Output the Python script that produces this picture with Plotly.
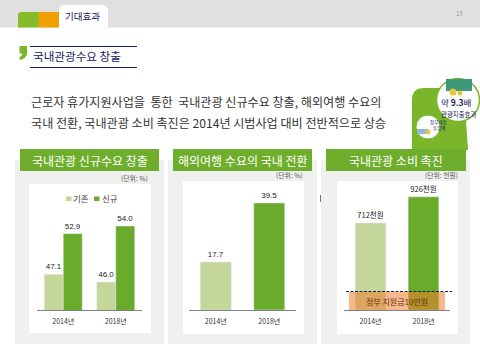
import plotly.graph_objects as go

W, H = 480, 360
KR = "Noto Sans CJK KR"
LAT = "Liberation Sans"
NAVY = "#12215f"
GREEN = "#6fae2c"
LIGHT = "#c5d69b"
DARK = "#6aab2b"
PANEL = "#f0f0f0"

years = ["2014년", "2018년"]
series_names = ["기존", "신규"]
demand_existing = [47.1, 46.0]
demand_new = [52.9, 54.0]
outbound = [17.7, 39.5]
spending = [712, 926]
subsidy_label = "정부 지원금10만원"
panel_titles = ["국내관광 신규수요 창출", "해외여행 수요의 국내 전환", "국내관광 소비 촉진"]
unit_labels = ["(단위: %)", "(단위: %)", "(단위: 천원)"]
body_lines = ["근로자 휴가지원사업을  통한  국내관광 신규수요 창출, 해외여행 수요의",
              "국내 전환, 국내관광 소비 촉진은 2014년 시범사업 대비 전반적으로 상승"]


def px(x):
    return x / W


def py(y):
    return 1 - y / H


shapes, notes = [], []


def rect(x0, y0, x1, y1, color, layer="below"):
    shapes.append(dict(type="rect", xref="paper", yref="paper", x0=px(x0), x1=px(x1), y0=py(y0), y1=py(y1),
                       fillcolor=color, line_width=0, layer=layer))


def line(x0, y0, x1, y1, color, width=1, dash="solid", layer="above"):
    shapes.append(dict(type="line", xref="paper", yref="paper", x0=px(x0), x1=px(x1), y0=py(y0), y1=py(y1),
                       line=dict(color=color, width=width, dash=dash), layer=layer))


def circle(cx, cy, r, fill, edge=None, lw=0, layer="below"):
    shapes.append(dict(type="circle", xref="paper", yref="paper", x0=px(cx - r), x1=px(cx + r),
                       y0=py(cy + r), y1=py(cy - r), fillcolor=fill,
                       line=dict(color=edge or fill, width=lw), layer=layer))


def text(x, y, s, size, color="#333333", font=KR, anchor="left"):
    notes.append(dict(xref="paper", yref="paper", x=px(x), y=py(y), text=s,
                      showarrow=False, xanchor=anchor, yanchor="middle", borderpad=0,
                      font=dict(size=size, color=color, family=font)))


# header band and tabs
rect(0, 0, 480, 27.5, "#e0e0e0")
shapes.append(dict(type="path", xref="paper", yref="paper", layer="below", line_width=0, fillcolor="#86bc2b",
                   path=f"M {px(18)} {py(27.5)} L {px(18)} {py(15)} Q {px(18)} {py(12)} {px(22)} {py(12)} L {px(39)} {py(12)} L {px(39)} {py(27.5)} Z"))
rect(38.5, 12, 59, 27.5, "#f0a000")
shapes.append(dict(type="path", xref="paper", yref="paper", layer="below", line_width=0, fillcolor="#ffffff",
                   path=f"M {px(59)} {py(27.5)} L {px(59)} {py(10)} Q {px(59)} {py(5)} {px(65)} {py(5)} L {px(101)} {py(5)} Q {px(108)} {py(5)} {px(108)} {py(12)} L {px(108)} {py(27.5)} Z"))
text(82.5, 16, "기대효과", 9.5, NAVY, anchor="center")
text(459, 14, "13", 6, "#999999", anchor="center")

# section heading
shapes.append(dict(type="path", xref="paper", yref="paper", layer="below", line_width=0, fillcolor="#7ab52a",
                   path=f"M {px(19.5)} {py(46)} L {px(27)} {py(46)} L {px(27)} {py(54)} Q {px(26)} {py(59)} {px(19.5)} {py(60)} L {px(19.5)} {py(57)} Q {px(22)} {py(56)} {px(22.5)} {py(53.5)} L {px(19.5)} {py(53.5)} Z"))
line(30, 46.5, 137, 46.5, NAVY)
line(30, 67.5, 137, 67.5, NAVY)
text(32, 56, "국내관광수요 창출", 11.6, NAVY)

# body text
text(30, 101, body_lines[0], 12.1, "#333333")
text(30, 122, body_lines[1], 12.1, "#333333")

# effect badge
shapes.append(dict(type="path", xref="paper", yref="paper", layer="below", line_width=0, fillcolor="#7ab52a",
                   path=f"M {px(412)} {py(136)} L {px(412)} {py(100)} Q {px(412)} {py(88)} {px(424)} {py(88)} L {px(450)} {py(88)} L {px(466)} {py(120)} L {px(468)} {py(150)} L {px(412)} {py(150)} Z"))
circle(458, 100, 21.5, "#ffffff", "#7ab52a", 1.5, "below")
circle(428, 127, 12, "#ffffff", "#7ab52a", 1, "below")
rect(446, 79, 472, 91, "#3c9a78")
circle(453, 92, 3.5, "#e8c440")
circle(460, 93, 2.5, "#e8c440")
rect(417, 129, 428, 134, "#8fb8d8")
circle(428, 132, 2.5, "#e8c440")
text(456, 102, "약 <b>9.3</b>배", 8.5, NAVY, anchor="center")
text(458, 114, "관광지출효과", 6.4, NAVY, anchor="center")
text(438.5, 122, "정부재정", 4.5, NAVY, anchor="center")
text(438.5, 128, "투입액", 4.5, NAVY, anchor="center")

# panels
panels = [(15, 164, 29, 151, 184, 333, 20, 159), (168, 317, 183, 304, 181, 334, 173, 312),
          (321, 470, 337, 458, 181, 334, 326, 466)]
for (a, b, c, d, e, f, g, h), title in zip(panels, panel_titles):
    rect(a, 160, b, 344, PANEL)
    rect(c, e, d, f, "#ffffff")
    rect(g, 149, h, 171, GREEN)
    text((g + h) / 2, 160, title, 12, "#ffffff", anchor="center")
text(149, 178, unit_labels[0], 6.8, "#555555", anchor="right")
text(304, 174.5, unit_labels[1], 6.8, "#555555", anchor="right")
text(459, 175, unit_labels[2], 6.8, "#555555", anchor="right")
line(320.5, 195, 320.5, 202, "#777777", 1)

# legend for the first panel
rect(66, 196.5, 71.5, 201, LIGHT)
text(72, 197.5, series_names[0], 8.5, "#444444")
rect(94, 196.5, 99.5, 201, DARK)
text(101, 197.5, series_names[1], 8.5, "#444444")

# subsidy overlay
rect(349, 292, 445, 310, "rgba(238,125,49,0.55)", "above")
line(346, 291.5, 452, 291.5, "#222222", 1, "3px,1.5px")
text(397, 301, subsidy_label, 8, "#6b3408", anchor="center")

# axis pixel frames
TOP = 195
BASE = 310
y1_range = [42, 42 + (BASE - TOP) / 7.0]
y2_range = [0, (BASE - TOP) / 2.71]
y3_range = [0, (BASE - TOP) / 0.1222]

fig = go.Figure()
lab = dict(size=8, color="#222222", family=LAT)
fig.add_bar(x=years, y=demand_existing, name=series_names[0], marker_color=LIGHT, text=[f"{v:.1f}" for v in demand_existing],
            textposition="outside", textfont=lab, cliponaxis=False, xaxis="x", yaxis="y", showlegend=False)
fig.add_bar(x=years, y=demand_new, name=series_names[1], marker_color=DARK, text=[f"{v:.1f}" for v in demand_new],
            textposition="outside", textfont=lab, cliponaxis=False, xaxis="x", yaxis="y", showlegend=False)
fig.add_bar(x=years, y=outbound, marker_color=[LIGHT, DARK], text=[f"{v:.1f}" for v in outbound],
            textposition="outside", textfont=lab, cliponaxis=False, showlegend=False, width=0.58, xaxis="x2", yaxis="y2")
fig.add_bar(x=years, y=spending, marker_color=[LIGHT, DARK], text=[f"{v}천원" for v in spending],
            textposition="outside", textfont=dict(size=7.5, color="#222222", family=KR), cliponaxis=False,
            showlegend=False, width=0.58, xaxis="x3", yaxis="y3")


def xax(x0, x1, anchor):
    return dict(domain=[px(x0), px(x1)], anchor=anchor, showline=True, linecolor="#808080", linewidth=1,
                ticks="outside", ticklen=5, tickcolor="rgba(0,0,0,0)", showgrid=False, zeroline=False,
                tickfont=dict(size=7, color="#333333", family=KR))


def yax(rng, anchor):
    return dict(domain=[py(BASE), py(TOP)], range=rng, anchor=anchor, visible=False, showgrid=False, zeroline=False)


fig.update_layout(
    width=W, height=H, margin=dict(l=0, r=0, t=0, b=0), autosize=False,
    paper_bgcolor="#ffffff", plot_bgcolor="rgba(0,0,0,0)",
    barmode="group", bargap=0.276, bargroupgap=0, showlegend=False,
    xaxis=xax(37, 142, "y"), yaxis=yax(y1_range, "x"),
    xaxis2=xax(189, 296, "y2"), yaxis2=yax(y2_range, "x2"),
    xaxis3=xax(344, 450, "y3"), yaxis3=yax(y3_range, "x3"),
    shapes=shapes, annotations=notes, font=dict(family=KR),
)
fig.write_html("out.html", config={"displayModeBar": False},
               post_script="document.body.style.margin='0';document.documentElement.style.overflow='hidden';")
